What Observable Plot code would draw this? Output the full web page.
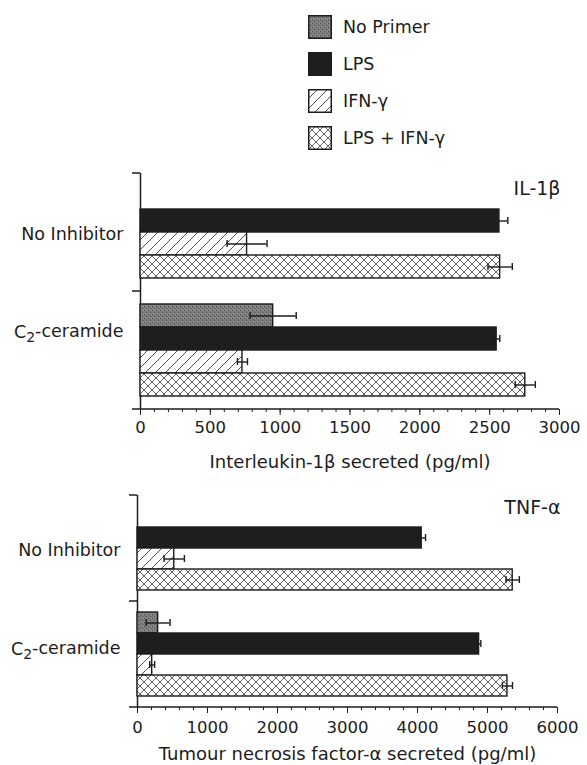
<!DOCTYPE html>
<html><head><meta charset="utf-8">
<script src="https://cdn.jsdelivr.net/npm/d3@7"></script>
<script src="https://cdn.jsdelivr.net/npm/@observablehq/plot@0.6"></script>
<style>
body{margin:0;background:#fff;font-family:"DejaVu Sans",sans-serif;color:#1c1c1c;}
#wrap{position:relative;width:587px;height:765px;overflow:hidden;}
#legend{position:absolute;left:308px;top:15px;}
.row{display:flex;align-items:center;height:24px;margin-bottom:13px;font-size:17.5px;}
.row svg{margin-right:11px;display:block;}
#top{position:absolute;left:0;top:160px;}
#bottom{position:absolute;left:0;top:480px;}
</style></head><body>
<svg width="0" height="0" style="position:absolute"><defs>
<pattern id="stipple" width="4" height="4" patternUnits="userSpaceOnUse">
<rect width="4" height="4" fill="#7c7c7c"/><rect x="0" y="0" width="1" height="1" fill="#4a4a4a"/><rect x="2" y="2" width="1" height="1" fill="#555"/><rect x="3" y="0" width="1" height="1" fill="#9a9a9a"/><rect x="1" y="3" width="1" height="1" fill="#a0a0a0"/>
</pattern>
<pattern id="diag" width="10" height="10" patternUnits="userSpaceOnUse">
<rect width="10" height="10" fill="#fff"/><path d="M-1,1 L1,-1 M0,10 L10,0 M9,11 L11,9" stroke="#505050" stroke-width="1"/>
</pattern>
<pattern id="cross" width="8" height="8" patternUnits="userSpaceOnUse">
<rect width="8" height="8" fill="#fff"/><path d="M0,8 L8,0 M-1,1 L1,-1 M7,9 L9,7 M0,0 L8,8 M-1,7 L1,9 M7,-1 L9,1" stroke="#505050" stroke-width="0.9"/>
</pattern>
</defs></svg>
<div id="wrap"><div id="legend"></div><div id="top"></div><div id="bottom"></div></div>
<script>
const ink = "#1c1c1c";
const groups = ["No Inhibitor", "C₂-ceramide"];
const primers = ["No Primer", "LPS", "IFN-γ", "LPS + IFN-γ"];
const primerFills = ["url(#stipple)", "#1e1e1e", "url(#diag)", "url(#cross)"];

// IL-1β secreted (pg/ml): order = primers
const il1bNoInhibitor    = [null, 2570, 763, 2575];
const il1bNoInhibitorErr = [null,   60, 143,   87];
const il1bCeramide       = [950,  2550, 730, 2755];
const il1bCeramideErr    = [165,    22,  36,   72];
const il1bTicks = [0, 500, 1000, 1500, 2000, 2500, 3000];

// TNF-α secreted (pg/ml)
const tnfNoInhibitor    = [null, 4060, 525, 5360];
const tnfNoInhibitorErr = [null,   55, 145,   95];
const tnfCeramide       = [295,  4880, 210, 5285];
const tnfCeramideErr    = [170,    25,  35,   72];
const tnfTicks = [0, 1000, 2000, 3000, 4000, 5000, 6000];

function rows(a, ae, b, be) {
  const out = [];
  [[a, ae], [b, be]].forEach(([vals, errs], gi) => {
    vals.forEach((v, pi) => {
      if (v != null) out.push({group: groups[gi], primer: primers[pi], value: v, err: errs[pi]});
    });
  });
  return out;
}

// legend
const legend = d3.select("#legend");
primers.forEach((p, i) => {
  const row = legend.append("div").attr("class", "row");
  const s = row.append("svg").attr("width", 24).attr("height", 24);
  s.append("rect").attr("x", 0.75).attr("y", 0.75).attr("width", 22.5).attr("height", 22.5)
    .attr("fill", primerFills[i]).attr("stroke", ink).attr("stroke-width", 1.5);
  row.append("span").text(p);
});

function panel(cfg) {
  const {data, ticks, minorStep, title, xlabel, width, height, mt, mb, ml, mr, po, capInset,
         labelDy, titleDy, titleDx, xlabelDy, tickPadding} = cfg;
  const xMax = ticks[ticks.length - 1];
  const minor = d3.range(0, xMax + 1, minorStep);
  const chart = Plot.plot({
    width, height, marginTop: mt, marginBottom: mb, marginLeft: ml, marginRight: mr,
    style: {fontFamily: "DejaVu Sans, sans-serif", fontSize: "17px", color: ink, background: "transparent"},
    x: {domain: [0, xMax]},
    y: {domain: primers, paddingInner: 0, paddingOuter: po, axis: null},
    fy: {domain: groups, padding: 0, axis: null},
    color: {domain: primers, range: primerFills},
    marks: [
      Plot.ruleX([0], {stroke: ink, strokeWidth: 1.5}),
      Plot.barX(data, {x: "value", y: "primer", fy: "group", fill: "primer", stroke: ink, strokeWidth: 1.4}),
      Plot.ruleY(data, {x1: d => d.value - d.err, x2: d => d.value + d.err, y: "primer", fy: "group", stroke: ink, strokeWidth: 1.4}),
      Plot.tickX(data, {x: d => d.value - d.err, y: "primer", fy: "group", insetTop: capInset, insetBottom: capInset, stroke: ink, strokeWidth: 1.4}),
      Plot.tickX(data, {x: d => d.value + d.err, y: "primer", fy: "group", insetTop: capInset, insetBottom: capInset, stroke: ink, strokeWidth: 1.4}),
      Plot.axisX({ticks: minor, tickSize: 3, tickFormat: () => "", label: null, stroke: ink}),
      Plot.axisX({ticks, tickSize: 6, tickPadding, tickFormat: d => String(d), label: null, stroke: ink, fill: ink, fontSize: 16.5}),
      Plot.text([title], {fy: [groups[0]], text: d => d, frameAnchor: "top-right", lineAnchor: "middle", textAnchor: "end", dy: titleDy, dx: titleDx, fontSize: 19, fill: ink}),
      Plot.text([xlabel], {fy: [groups[1]], text: d => d, frameAnchor: "bottom", lineAnchor: "middle", dy: xlabelDy, fontSize: 18, fill: ink}),
      ...groups.map((g, i) => Plot.text([g], {fy: [g], text: d => d, frameAnchor: "left", textAnchor: "end", lineAnchor: "middle", dx: -17, dy: labelDy[i], fontSize: 17.5, fill: ink}))
    ]
  });
  const svg = d3.select(chart.tagName.toLowerCase() === "svg" ? chart : chart.querySelector("svg"));
  // render the subscript of C₂ as a proper lowered digit
  svg.selectAll("text").each(function() {
    const t = d3.select(this);
    if (t.selectAll("tspan").size() === 0 && t.text() === "C₂-ceramide") {
      t.text(null);
      t.append("tspan").text("C");
      t.append("tspan").attr("dy", "0.28em").attr("font-size", "0.8em").text("2");
      t.append("tspan").attr("dy", "-0.28em").text("-ceramide");
    }
  });
  // axis decorations: band boundary ticks and baseline
  const top = mt, bot = height - mb, mid = (top + bot) / 2;
  [top, mid].forEach(y => svg.append("line").attr("x1", ml - 8).attr("x2", ml).attr("y1", y).attr("y2", y)
    .attr("stroke", ink).attr("stroke-width", 1.5));
  svg.append("line").attr("x1", ml - 8).attr("x2", width - mr).attr("y1", bot).attr("y2", bot)
    .attr("stroke", ink).attr("stroke-width", 1.5);
  return chart;
}

document.getElementById("top").appendChild(panel({
  data: rows(il1bNoInhibitor, il1bNoInhibitorErr, il1bCeramide, il1bCeramideErr),
  ticks: il1bTicks, minorStep: 100, title: "IL-1β", xlabel: "Interleukin-1β secreted (pg/ml)",
  width: 587, height: 320, mt: 13, mb: 71, ml: 140, mr: 28, po: 0.46, capInset: 8,
  labelDy: [2, -18], titleDy: 15.5, titleDx: 1, xlabelDy: 53, tickPadding: 6
}));
document.getElementById("bottom").appendChild(panel({
  data: rows(tnfNoInhibitor, tnfNoInhibitorErr, tnfCeramide, tnfCeramideErr),
  ticks: tnfTicks, minorStep: 200, title: "TNF-α", xlabel: "Tumour necrosis factor-α secreted (pg/ml)",
  width: 587, height: 285, mt: 15, mb: 58, ml: 137, mr: 30, po: 0.48, capInset: 7,
  labelDy: [2, -5], titleDy: 12, titleDx: 3, xlabelDy: 47, tickPadding: 8
}));
</script>
</body></html>
